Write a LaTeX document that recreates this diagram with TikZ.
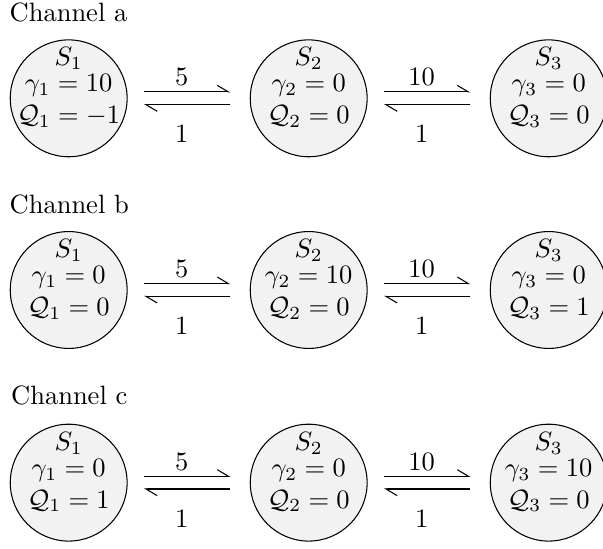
\documentclass[tikz,border=0pt]{standalone}
\usetikzlibrary{arrows.meta}

\definecolor{statefill}{HTML}{F2F2F2}

\begin{document}
\begin{tikzpicture}[
    chan/.style={anchor=base west, inner sep=0pt},
    state/.style={circle, draw, fill=statefill, minimum size=1.55cm,
                  inner sep=0pt},
    sname/.style={anchor=base, inner sep=0pt},
    vals/.style={align=center, inner sep=0pt},
    conn/.style={-{Straight Barb[left, length=4.2pt, width=5pt]}},
    fwd/.style={conn, shorten <=0.218cm, shorten >=0.257cm},
    bwd/.style={conn, shorten <=0.257cm, shorten >=0.218cm},
]
\useasboundingbox (-0.911, 1.304) rectangle (7.086, -5.964);

% --- Channel a ---
\node[chan] (ha) at (-0.79, 1.016) {Channel a};
\node[state] (a1) at (0, 0)     {};
\node[state] (a2) at (3.183, 0) {};
\node[state] (a3) at (6.366, 0) {};
\node[sname] (a1s) at ([yshift=-10pt]a1.north) {$S_1$};
\node[sname] (a2s) at ([yshift=-10pt]a2.north) {$S_2$};
\node[sname] (a3s) at ([yshift=-10pt]a3.north) {$S_3$};
\node[vals] (a1v) at ([yshift=-1.1pt]a1.center) {$\gamma_1=10$\\$\mathcal{Q}_1=-1$};
\node[vals] (a2v) at ([yshift=-1.1pt]a2.center) {$\gamma_2=0$\\$\mathcal{Q}_2=0$};
\node[vals] (a3v) at ([yshift=-1.1pt]a3.center) {$\gamma_3=0$\\$\mathcal{Q}_3=0$};

\draw[fwd] ([yshift=2.4pt]a1.east) -- ([yshift=2.4pt]a2.west)
    node[above=-1.5pt, pos=0.443] (a12) {5};
\draw[bwd] ([yshift=-2.4pt]a2.west) -- ([yshift=-2.4pt]a1.east)
    node[below=4.2pt, pos=0.557] (a21) {1};
\draw[fwd] ([yshift=2.4pt]a2.east) -- ([yshift=2.4pt]a3.west)
    node[above=-1.5pt, pos=0.443] (a23) {10};
\draw[bwd] ([yshift=-2.4pt]a3.west) -- ([yshift=-2.4pt]a2.east)
    node[below=4.2pt, pos=0.557] (a32) {1};

% --- Channel b ---
\node[chan] (hb) at (-0.79, -1.526) {Channel b};
\node[state] (b1) at (0, -2.542)     {};
\node[state] (b2) at (3.183, -2.542) {};
\node[state] (b3) at (6.366, -2.542) {};
\node[sname] (b1s) at ([yshift=-10pt]b1.north) {$S_1$};
\node[sname] (b2s) at ([yshift=-10pt]b2.north) {$S_2$};
\node[sname] (b3s) at ([yshift=-10pt]b3.north) {$S_3$};
\node[vals] (b1v) at ([yshift=-1.1pt]b1.center) {$\gamma_1=0$\\$\mathcal{Q}_1=0$};
\node[vals] (b2v) at ([yshift=-1.1pt]b2.center) {$\gamma_2=10$\\$\mathcal{Q}_2=0$};
\node[vals] (b3v) at ([yshift=-1.1pt]b3.center) {$\gamma_3=0$\\$\mathcal{Q}_3=1$};

\draw[fwd] ([yshift=2.4pt]b1.east) -- ([yshift=2.4pt]b2.west)
    node[above=-1.5pt, pos=0.443] (b12) {5};
\draw[bwd] ([yshift=-2.4pt]b2.west) -- ([yshift=-2.4pt]b1.east)
    node[below=4.2pt, pos=0.557] (b21) {1};
\draw[fwd] ([yshift=2.4pt]b2.east) -- ([yshift=2.4pt]b3.west)
    node[above=-1.5pt, pos=0.443] (b23) {10};
\draw[bwd] ([yshift=-2.4pt]b3.west) -- ([yshift=-2.4pt]b2.east)
    node[below=4.2pt, pos=0.557] (b32) {1};

% --- Channel c ---
\node[chan] (hc) at (-0.77, -4.054) {Channel c};
\node[state] (c1) at (0, -5.097)     {};
\node[state] (c2) at (3.183, -5.097) {};
\node[state] (c3) at (6.366, -5.097) {};
\node[sname] (c1s) at ([yshift=-10pt]c1.north) {$S_1$};
\node[sname] (c2s) at ([yshift=-10pt]c2.north) {$S_2$};
\node[sname] (c3s) at ([yshift=-10pt]c3.north) {$S_3$};
\node[vals] (c1v) at ([yshift=-1.1pt]c1.center) {$\gamma_1=0$\\$\mathcal{Q}_1=1$};
\node[vals] (c2v) at ([yshift=-1.1pt]c2.center) {$\gamma_2=0$\\$\mathcal{Q}_2=0$};
\node[vals] (c3v) at ([yshift=-1.1pt]c3.center) {$\gamma_3=10$\\$\mathcal{Q}_3=0$};

\draw[fwd] ([yshift=2.4pt]c1.east) -- ([yshift=2.4pt]c2.west)
    node[above=-1.5pt, pos=0.443] (c12) {5};
\draw[bwd] ([yshift=-2.4pt]c2.west) -- ([yshift=-2.4pt]c1.east)
    node[below=4.2pt, pos=0.557] (c21) {1};
\draw[fwd] ([yshift=2.4pt]c2.east) -- ([yshift=2.4pt]c3.west)
    node[above=-1.5pt, pos=0.443] (c23) {10};
\draw[bwd] ([yshift=-2.4pt]c3.west) -- ([yshift=-2.4pt]c2.east)
    node[below=4.2pt, pos=0.557] (c32) {1};

\end{tikzpicture}
\end{document}
